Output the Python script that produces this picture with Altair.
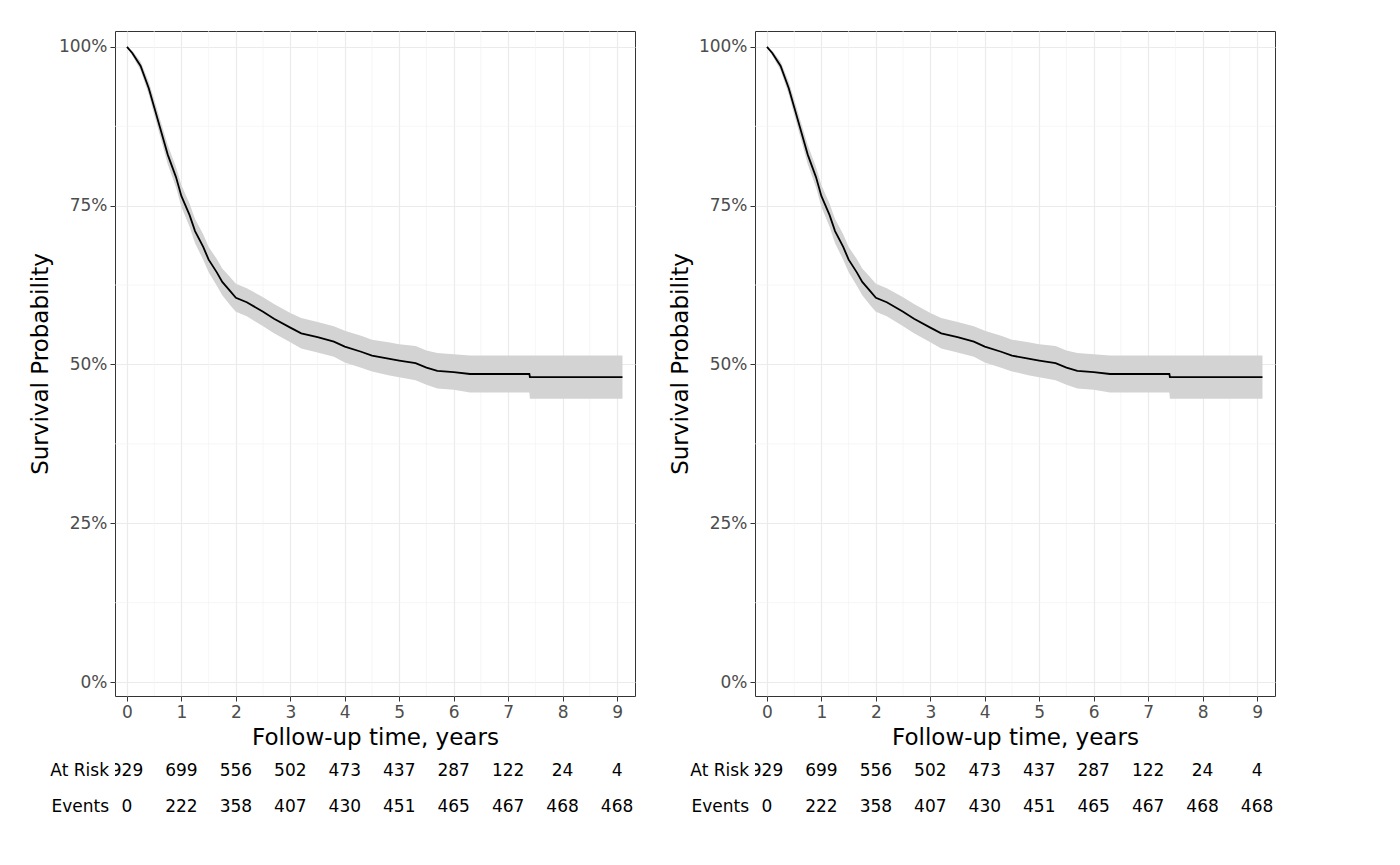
import pandas as pd
import altair as alt

# ---------- data ----------
times = [0, 0.1, 0.25, 0.4, 0.5, 0.6, 0.75, 0.9, 1.0, 1.15, 1.25, 1.4, 1.5, 1.65, 1.75, 1.9, 2.0, 2.2,
         2.5, 2.7, 3.0, 3.2, 3.5, 3.8, 4.0, 4.3, 4.5, 4.8, 5.0, 5.3, 5.5, 5.7, 6.0, 6.3, 7.39, 7.4, 9.1]
surv = [1.0, 0.99, 0.97, 0.935, 0.905, 0.875, 0.83, 0.795, 0.765, 0.735, 0.71, 0.685, 0.665, 0.645,
        0.63, 0.615, 0.605, 0.598, 0.583, 0.572, 0.558, 0.549, 0.543, 0.536, 0.528, 0.52, 0.514,
        0.509, 0.506, 0.502, 0.495, 0.49, 0.488, 0.485, 0.485, 0.48, 0.48]
ci_half = [0.0, 0.004, 0.007, 0.01, 0.012, 0.013, 0.015, 0.016, 0.017, 0.018, 0.019, 0.02, 0.02,
           0.021, 0.021, 0.022, 0.022, 0.022, 0.023, 0.023, 0.023, 0.024, 0.024, 0.024, 0.025,
           0.025, 0.025, 0.026, 0.026, 0.027, 0.027, 0.028, 0.028, 0.029, 0.029, 0.034, 0.034]

tick_years = list(range(10))
at_risk = [929, 699, 556, 502, 473, 437, 287, 122, 24, 4]
events = [0, 222, 358, 407, 430, 451, 465, 467, 468, 468]
minor_x = [0.5, 1.5, 2.5, 3.5, 4.5, 5.5, 6.5, 7.5, 8.5]
minor_y = [0.125, 0.375, 0.625, 0.875]

curve = pd.DataFrame({"t": times, "s": surv,
                      "lo": [s - h for s, h in zip(surv, ci_half)],
                      "hi": [min(1.0, s + h) for s, h in zip(surv, ci_half)]})
table = pd.DataFrame({
    "t": tick_years * 2,
    "row": ["At Risk"] * 10 + ["Events"] * 10,
    "n": at_risk + events,
})

W, H = 520, 665
xs = alt.Scale(domain=[-0.22, 9.33], nice=False, zero=False)
ys = alt.Scale(domain=[-0.022, 1.025], nice=False)
rows = alt.Scale(type="point", range=[12, 48], padding=0)
FONT = "DejaVu Sans"


def km_panel():
    base = alt.Chart(curve)
    minor_v = alt.Chart(pd.DataFrame({"m": minor_x})).mark_rule(color="#f2f2f2", strokeWidth=0.7).encode(
        x=alt.X("m:Q", scale=xs))
    minor_h = alt.Chart(pd.DataFrame({"m": minor_y})).mark_rule(color="#f2f2f2", strokeWidth=0.7).encode(
        y=alt.Y("m:Q", scale=ys))
    band = base.mark_area(color="#d3d3d3", opacity=1).encode(
        x=alt.X("t:Q", scale=xs,
                axis=alt.Axis(values=tick_years, title="Follow-up time, years", grid=True)),
        y=alt.Y("lo:Q", scale=ys,
                axis=alt.Axis(values=[0, 0.25, 0.5, 0.75, 1.0], format=".0%",
                              title="Survival Probability")),
        y2="hi:Q",
    )
    line = base.mark_line(color="black", strokeWidth=1.8).encode(x="t:Q", y="s:Q")
    plot = alt.layer(minor_v, minor_h, band, line).properties(width=W, height=H)

    nums = alt.Chart(table).mark_text(fontSize=17, font=FONT, color="black", clip=True).encode(
        x=alt.X("t:Q", scale=xs, axis=None),
        y=alt.Y("row:N", axis=None, scale=rows),
        text="n:Q",
    )
    labels = alt.Chart(pd.DataFrame({"row": ["At Risk", "Events"]})).mark_text(
        fontSize=17, font=FONT, color="black", align="right").encode(
        x=alt.value(-6),
        y=alt.Y("row:N", axis=None, scale=rows),
        text="row:N",
    )
    tbl = alt.layer(nums, labels).properties(
        width=W, height=60, view=alt.ViewConfig(stroke="transparent"))
    return alt.vconcat(plot, tbl, spacing=8)


chart = alt.hconcat(km_panel(), km_panel(), spacing=32).configure_axis(
    labelFont=FONT, titleFont=FONT, labelFontSize=17, titleFontSize=23, titleFontWeight="normal",
    labelColor="#4d4d4d", titleColor="black", gridColor="#ebebeb", gridWidth=1.2,
    domain=False, tickColor="#333", tickSize=5, labelPadding=3, titlePadding=6,
).configure_view(stroke="#333", strokeWidth=1)

chart = chart.properties(padding={"left": 20, "top": 22, "right": 5, "bottom": 5})
chart.save("out.html", embed_options={"renderer": "svg", "actions": False})
